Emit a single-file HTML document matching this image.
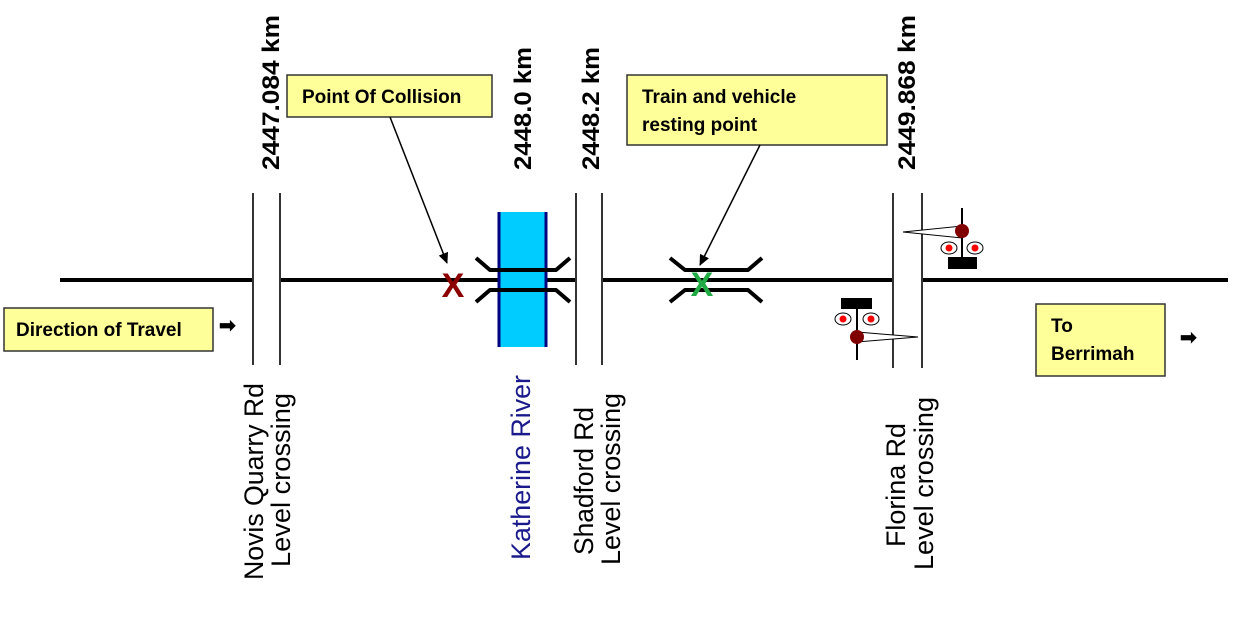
<!DOCTYPE html>
<html><head><style>body{margin:0;background:#fff}svg{display:block}</style></head><body>
<svg width="1233" height="642" xmlns="http://www.w3.org/2000/svg" font-family="Liberation Sans, Arial, sans-serif">
<defs><marker id="ah" markerWidth="12" markerHeight="12" refX="10" refY="6" orient="auto" markerUnits="userSpaceOnUse"><path d="M0,1 L11,6 L0,11 z" fill="#000"/></marker></defs>
<rect width="1233" height="642" fill="#fff"/>
<g stroke="#000" stroke-width="4">
<line x1="60" y1="280" x2="253" y2="280"/>
<line x1="280" y1="280" x2="576" y2="280"/>
<line x1="602" y1="280" x2="893" y2="280"/>
<line x1="922" y1="280" x2="1228" y2="280"/>
</g>
<g stroke="#333" stroke-width="2">
<line x1="253" y1="193" x2="253" y2="365"/><line x1="280" y1="193" x2="280" y2="365"/>
<line x1="576" y1="193" x2="576" y2="365"/><line x1="602" y1="193" x2="602" y2="365"/>
<line x1="893" y1="193" x2="893" y2="368"/><line x1="922" y1="193" x2="922" y2="368"/>
</g>
<rect x="498" y="212" width="49" height="135" fill="#00ccff"/>
<line x1="499" y1="212" x2="499" y2="347" stroke="#000080" stroke-width="3"/>
<line x1="546" y1="212" x2="546" y2="347" stroke="#000080" stroke-width="3"/>
<g fill="none" stroke="#000" stroke-width="4" stroke-linejoin="round">
<path d="M476,258 L490,270 L556,270 L570,258"/><path d="M476,302 L490,290 L556,290 L570,302"/>
<path d="M670,258 L685,270 L748,270 L762,258"/><path d="M670,302 L685,290 L748,290 L762,302"/>
</g>
<text x="453" y="297" font-size="34" font-weight="bold" fill="#8b0000" text-anchor="middle">X</text>
<text x="702" y="296" font-size="34" font-weight="bold" fill="#22aa44" text-anchor="middle">X</text>
<g>
<line x1="962" y1="208" x2="962" y2="262" stroke="#000" stroke-width="2"/>
<polygon points="903,232 962,226 962,238" fill="#fff" stroke="#000" stroke-width="1"/>
<circle cx="962" cy="231" r="7" fill="#800000"/>
<ellipse cx="949" cy="248" rx="8" ry="6" fill="#fff" stroke="#000"/><circle cx="949" cy="248" r="3.5" fill="red"/>
<ellipse cx="975" cy="248" rx="8" ry="6" fill="#fff" stroke="#000"/><circle cx="975" cy="248" r="3.5" fill="red"/>
<rect x="948" y="257" width="29" height="12" fill="#000"/>
<line x1="857" y1="305" x2="857" y2="360" stroke="#000" stroke-width="2"/>
<rect x="841" y="298" width="31" height="11" fill="#000"/>
<ellipse cx="843" cy="319" rx="8" ry="6" fill="#fff" stroke="#000"/><circle cx="843" cy="319" r="3.5" fill="red"/>
<ellipse cx="871" cy="319" rx="8" ry="6" fill="#fff" stroke="#000"/><circle cx="871" cy="319" r="3.5" fill="red"/>
<polygon points="857,332 918,337 857,342" fill="#fff" stroke="#000" stroke-width="1"/>
<circle cx="857" cy="337" r="7" fill="#800000"/>
</g>
<g stroke="#333" stroke-width="1.5" fill="#ffff99">
<rect x="287" y="75" width="205" height="42"/>
<rect x="627" y="75" width="260" height="70"/>
<rect x="4" y="308" width="209" height="43"/>
<rect x="1036" y="304" width="129" height="72"/>
</g>
<g font-size="19" font-weight="bold" fill="#000">
<text x="302" y="103">Point Of Collision</text>
<text x="642" y="103">Train and vehicle</text>
<text x="642" y="131">resting point</text>
<text x="16" y="336">Direction of Travel</text>
<text x="1051" y="332">To</text>
<text x="1051" y="360">Berrimah</text>
</g>
<text x="219" y="332" font-size="20" font-weight="bold">➡</text>
<text x="1180" y="344" font-size="20" font-weight="bold">➡</text>
<line x1="390" y1="117" x2="447" y2="263" stroke="#000" stroke-width="1.5" marker-end="url(#ah)"/>
<line x1="760" y1="145" x2="700" y2="265" stroke="#000" stroke-width="1.5" marker-end="url(#ah)"/>
<g font-size="24" font-weight="bold" fill="#000">
<text transform="translate(279,170) rotate(-90)" textLength="155" lengthAdjust="spacingAndGlyphs">2447.084 km</text>
<text transform="translate(531,170) rotate(-90)" textLength="123" lengthAdjust="spacingAndGlyphs">2448.0 km</text>
<text transform="translate(599,170) rotate(-90)" textLength="123" lengthAdjust="spacingAndGlyphs">2448.2 km</text>
<text transform="translate(915,170) rotate(-90)" textLength="155" lengthAdjust="spacingAndGlyphs">2449.868 km</text>
</g>
<g font-size="27" fill="#000">
<text transform="translate(263,580) rotate(-90)" textLength="197" lengthAdjust="spacingAndGlyphs">Novis Quarry Rd</text>
<text transform="translate(290,567) rotate(-90)" textLength="174" lengthAdjust="spacingAndGlyphs">Level crossing</text>
<text transform="translate(530,560) rotate(-90)" textLength="185" lengthAdjust="spacingAndGlyphs" fill="#1a1a8c">Katherine River</text>
<text transform="translate(593,555) rotate(-90)" textLength="148" lengthAdjust="spacingAndGlyphs">Shadford Rd</text>
<text transform="translate(620,565) rotate(-90)" textLength="172" lengthAdjust="spacingAndGlyphs">Level crossing</text>
<text transform="translate(905,547) rotate(-90)" textLength="124" lengthAdjust="spacingAndGlyphs">Florina Rd</text>
<text transform="translate(933,570) rotate(-90)" textLength="173" lengthAdjust="spacingAndGlyphs">Level crossing</text>
</g>
</svg>
</body></html>
